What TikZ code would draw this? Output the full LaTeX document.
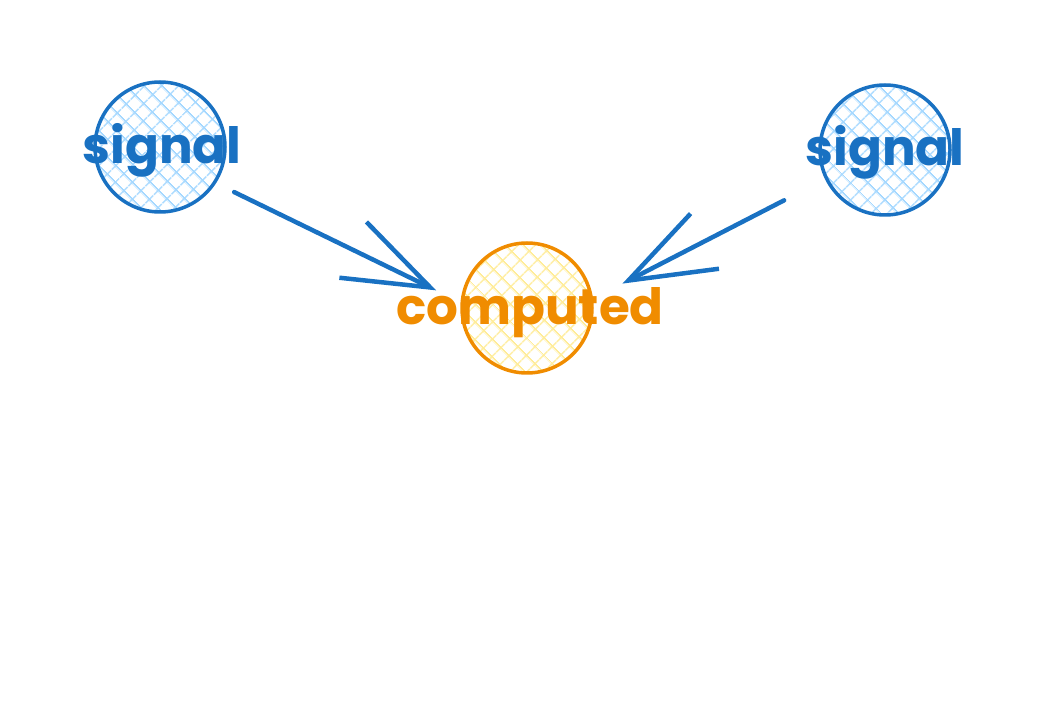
\documentclass[tikz,border=0pt]{standalone}
\usepackage{fontspec}
\newfontfamily\handfont{Poppins}
\usetikzlibrary{arrows.meta,patterns.meta}
\definecolor{sigblue}{HTML}{1971C2}
\definecolor{sighatch}{HTML}{A5D8FF}
\definecolor{comporange}{HTML}{F08C00}
\definecolor{comphatch}{HTML}{FFEC99}

\begin{document}
\begin{tikzpicture}[x=1pt, y=-1pt,
  sigcirc/.style={circle, draw=sigblue, line width=3.5pt, minimum size=130pt,
    pattern={Hatch[angle=45, distance=13pt, line width=1.8pt]}, pattern color=sighatch},
  compcirc/.style={circle, draw=comporange, line width=3.5pt, minimum size=130pt,
    pattern={Hatch[angle=45, distance=13pt, line width=1.8pt]}, pattern color=comphatch},
  sigtext/.style={text=sigblue, font=\handfont\bfseries\fontsize{50}{56}\selectfont},
  comptext/.style={text=comporange, font=\handfont\bfseries\fontsize{50}{56}\selectfont},
  arr/.style={draw=sigblue, line width=4.5pt, line cap=round,
    -{Straight Barb[length=86pt, width=62pt, line width=4.5pt]}}]

\useasboundingbox (0,0) rectangle (1053,727);

\node (sigleft) [sigcirc] at (160,147) {};
\node (sigright) [sigcirc] at (885,150) {};
\node (comp) [compcirc] at (527,308) {};

\node (sigleftlabel) [sigtext] at (162,150) {signal};
\node (sigrightlabel) [sigtext] at (885,152) {signal};
\node (complabel) [comptext] at (530,313) {computed};

\draw[arr, shorten <=21pt, shorten >=27pt] (sigleft.-33) -- (comp.175);
\draw[arr, shorten <=46pt, shorten >=33pt] (sigright.206) -- (comp.8);

\end{tikzpicture}
\end{document}
